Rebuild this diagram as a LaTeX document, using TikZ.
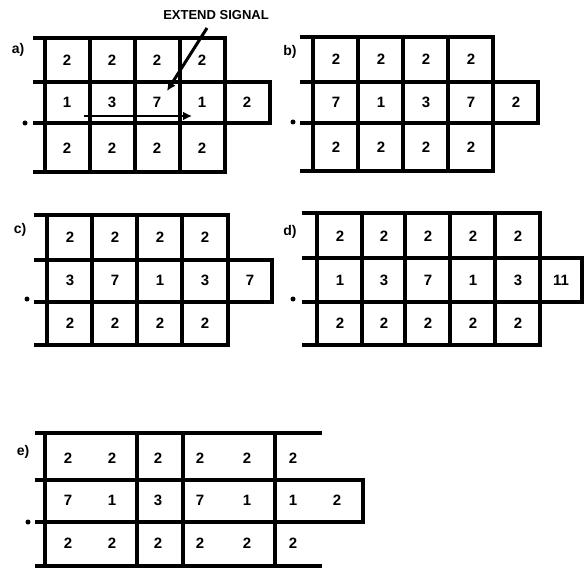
\documentclass[tikz,border=0pt]{standalone}
\usepackage{fontspec}
\setmainfont{Liberation Sans}
\usetikzlibrary{arrows.meta}

\begin{document}
\begin{tikzpicture}[x=1pt,y=-1pt,
    rule/.style={line width=3.6pt,line cap=rect},
    num/.style={font=\fontsize{15}{15}\selectfont\bfseries,inner sep=0pt},
    tag/.style={font=\fontsize{14}{14}\selectfont\bfseries,inner sep=0pt},
    dotmark/.style={circle,fill,inner sep=0pt,minimum size=5pt},
    sig/.style={line width=3pt,-{Latex[length=9pt,width=9pt]}}
  ]
    \useasboundingbox (0,0) rectangle (585,569);
    % a)
    \node[tag] (la) at (18,50) {a)};
    \node[dotmark] (da) at (25,123) {};
    \foreach \y/\r in {38/225,82/270,123/270,172/225} \draw[rule] (35,\y)--(\r,\y);
    \foreach \x in {45,90,...,225} {\draw[rule] (\x,38)--(\x,82); \draw[rule] (\x,123)--(\x,172);}
    \foreach \x in {45,90,...,270} \draw[rule] (\x,82)--(\x,123);
    \foreach \x [count=\i] in {67,112,157,202} {\node[num] (at\i) at (\x,60) {2}; \node[num] (ab\i) at (\x,148) {2};}
    \foreach \x/\t [count=\i] in {67/1,112/3,157/7,202/1,247/2} \node[num] (am\i) at (\x,102) {\t};
    \node[font=\fontsize{13}{13}\selectfont\bfseries,inner sep=1pt] (sigtext) at (216,15) {EXTEND SIGNAL};
    \coordinate (sigtail) at (207,28);
    \coordinate (sighead) at (167,91);
    \draw[sig] (sigtail)--(sighead);
    \coordinate (runtail) at (84,116);
    \coordinate (runhead) at (192,116);
    \draw[sig,line width=2.6pt] (runtail)--(runhead);

    % b)
    \node[tag] (lb) at (290,52) {b)};
    \node[dotmark] (db) at (293,122) {};
    \foreach \y/\r in {37/493,82/538,123/538,171/493} \draw[rule] (302,\y)--(\r,\y);
    \foreach \x in {313,358,...,493} {\draw[rule] (\x,37)--(\x,82); \draw[rule] (\x,123)--(\x,171);}
    \foreach \x in {313,358,...,538} \draw[rule] (\x,82)--(\x,123);
    \foreach \x [count=\i] in {336,381,426,471} {\node[num] (bt\i) at (\x,59) {2}; \node[num] (bb\i) at (\x,147) {2};}
    \foreach \x/\t [count=\i] in {336/7,381/1,426/3,471/7,516/2} \node[num] (bm\i) at (\x,102) {\t};

    % c)
    \node[tag] (lc) at (20,230) {c)};
    \node[dotmark] (dc) at (27,299) {};
    \foreach \y/\r in {215/228,260/272,302/272,345/228} \draw[rule] (36,\y)--(\r,\y);
    \foreach \x in {47,92,137,182,228} {\draw[rule] (\x,215)--(\x,260); \draw[rule] (\x,302)--(\x,345);}
    \foreach \x in {47,92,137,182,228,272} \draw[rule] (\x,260)--(\x,302);
    \foreach \x [count=\i] in {70,115,160,205} {\node[num] (ct\i) at (\x,237) {2}; \node[num] (cb\i) at (\x,323) {2};}
    \foreach \x/\t [count=\i] in {70/3,115/7,160/1,205/3,250/7} \node[num] (cm\i) at (\x,280) {\t};

    % d)
    \node[tag] (ld) at (290,232) {d)};
    \node[dotmark] (dd) at (293,299) {};
    \foreach \y/\r in {213/540,258/582,302/582,345/540} \draw[rule] (304,\y)--(\r,\y);
    \foreach \x in {317,362,405,450,495,540} {\draw[rule] (\x,213)--(\x,258); \draw[rule] (\x,302)--(\x,345);}
    \foreach \x in {317,362,405,450,495,540,582} \draw[rule] (\x,258)--(\x,302);
    \foreach \x [count=\i] in {340,384,428,473,518} {\node[num] (dt\i) at (\x,236) {2}; \node[num] (db\i) at (\x,323) {2};}
    \foreach \x/\t [count=\i] in {340/1,384/3,428/7,473/1,518/3,561/11} \node[num] (dm\i) at (\x,280) {\t};

    % e)
    \node[tag] (le) at (23,452) {e)};
    \node[dotmark] (de) at (28,522) {};
    \foreach \y/\r in {433/320,480/363,522/363,566/320} \draw[rule] (37,\y)--(\r,\y);
    \foreach \x in {45,137,183,275} {\draw[rule] (\x,433)--(\x,480); \draw[rule] (\x,522)--(\x,566);}
    \foreach \x in {45,137,183,275,363} \draw[rule] (\x,480)--(\x,522);
    \foreach \x [count=\i] in {68,112,158,200,247,293} {\node[num] (et\i) at (\x,458) {2}; \node[num] (eb\i) at (\x,543) {2};}
    \foreach \x/\t [count=\i] in {68/7,112/1,158/3,200/7,247/1,293/1,337/2} \node[num] (em\i) at (\x,500) {\t};
  \end{tikzpicture}
\end{document}
